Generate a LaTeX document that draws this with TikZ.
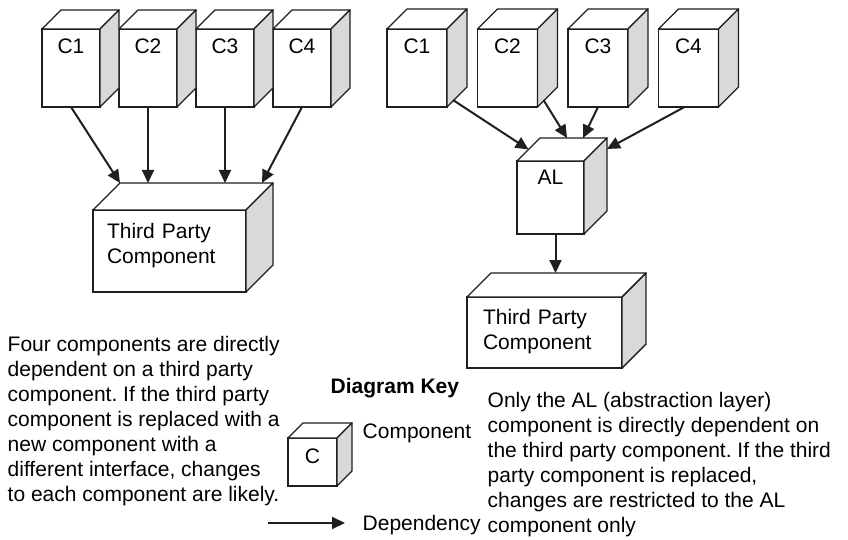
\documentclass[tikz,border=0pt]{standalone}
\usepackage{fontspec}
\setmainfont{Liberation Sans}
\usetikzlibrary{positioning,calc,arrows.meta}
\definecolor{sidegray}{gray}{0.85}
\definecolor{ink}{gray}{0.12}
\frenchspacing
\begin{document}
\begin{tikzpicture}[x=1pt, y=1pt, line width=1.4pt, font=\fontsize{21}{25}\selectfont,
    comp/.style = {draw=ink, fill=white, inner sep=0pt, outer sep=0pt},
    cbox/.style = {comp, minimum width=#1, minimum height=78pt, text height=25pt, text depth=53pt},
    tpbox/.style = {comp, align=left},
    face/.style = {draw=ink, line join=round},
    dep/.style = {-{Triangle[length=13pt, width=12pt]}, line width=2pt, draw=ink, fill=ink},
    note/.style = {align=left, inner sep=0pt, anchor=north west}]
  \useasboundingbox (0,0) rectangle (848,539);
  % direct dependency
  \node[cbox=58pt] (lc1) at (71,471) {C1};
  \node[cbox=58pt] (lc2) [right=19pt of lc1] {C2};
  \node[cbox=58pt] (lc3) [right=19pt of lc2] {C3};
  \node[cbox=58pt] (lc4) [right=19pt of lc3] {C4};
  \node[tpbox, minimum width=153pt, minimum height=82pt, text width=125pt,
        text height=28.7pt, text depth=53.3pt] (lTP) at (169.5,288) {Third Party\\Component};
  % through the abstraction layer
  \node[cbox=60pt] (rc1) at (417,471) {C1};
  \node[cbox=60pt] (rc2) [right=30.5pt of rc1] {C2};
  \node[cbox=60pt] (rc3) [right=30.5pt of rc2] {C3};
  \node[cbox=60pt] (rc4) [right=30.5pt of rc3] {C4};
  \node[comp, minimum width=67pt, minimum height=73pt, text height=24pt, text depth=49pt] (AL) at (550.5,341.5) {AL};
  \node[tpbox, minimum width=155pt, minimum height=71pt, text width=123pt,
        text height=27.6pt, text depth=43.4pt] (rTP) at (544.5,206.5) {Third Party\\Component};
  % key
  \node[comp, minimum width=49pt, minimum height=48pt, text height=25pt, text depth=23pt] (key) at (312.5,77) {C};
  % top and side faces
  \foreach \n/\d in {lc1/19, lc2/19, lc3/19, lc4/19, lTP/27, rc1/20, rc2/20, rc3/20, rc4/20, AL/23, rTP/24, key/15} {
    \draw[face, fill=white] (\n.north west) -- ++(\d,\d) -- ($(\n.north east)+(\d,\d)$) -- (\n.north east) -- cycle;
    \draw[face, fill=sidegray] (\n.north east) -- ++(\d,\d) -- ($(\n.south east)+(\d,\d)$) -- (\n.south east) -- cycle;
  }
  \coordinate (lTPb) at ($(lTP.north west)+(27,27)$);
  \coordinate (ALb) at ($(AL.north west)+(23,23)$);
  \coordinate (rTPb) at ($(rTP.north west)+(24,24)$);
  \draw[dep] (lc1.south) -- (lTPb);
  \draw[dep] (lc2.south) -- (lc2.south |- lTPb);
  \draw[dep] (lc3.south) -- (lc3.south |- lTPb);
  \draw[dep] (lc4.south) -- ($(lTP.north east)+(16,27)$);
  \draw[dep] ($(rc1.south east)+(6,7)$) -- ($(AL.north west)!0.5!(ALb)$);
  \draw[dep] ($(rc2.south east)+(6,7)$) -- ($(ALb)+(27,0)$);
  \draw[dep] (rc3.south) -- ($(ALb)+(43,0)$);
  \draw[dep] ([xshift=-4pt]rc4.south) -- ($(AL.north east)+(23,12)$);
  \draw[dep] ([xshift=5pt]AL.south) -- ([xshift=5pt]AL.south |- rTPb);
  % texts
  \node[note] (leftnote) at (7,203.5) {Four components are directly\\dependent on a third party\\component. If the third party\\component is replaced with a\\new component with a\\different interface, changes\\to each component are likely.};
  \node[note] (rightnote) at (487,147.6) {Only the AL (abstraction layer)\\component is directly dependent on\\the third party component. If the third\\party component is replaced,\\changes are restricted to the AL\\component only};
  \node[anchor=base west, inner sep=0pt, font=\fontsize{21}{25}\selectfont\bfseries] (keytitle) at (330,145.7) {Diagram Key};
  \node[anchor=base west, inner sep=0pt] (keycomp) at (362,100.7) {Component};
  \node[anchor=base west, inner sep=0pt] (keydep) at (362,9) {Dependency};
  \coordinate (keyA) at (268,16);
  \coordinate (keyB) at (345,16);
  \draw[dep] (keyA) -- (keyB);
\end{tikzpicture}
\end{document}
